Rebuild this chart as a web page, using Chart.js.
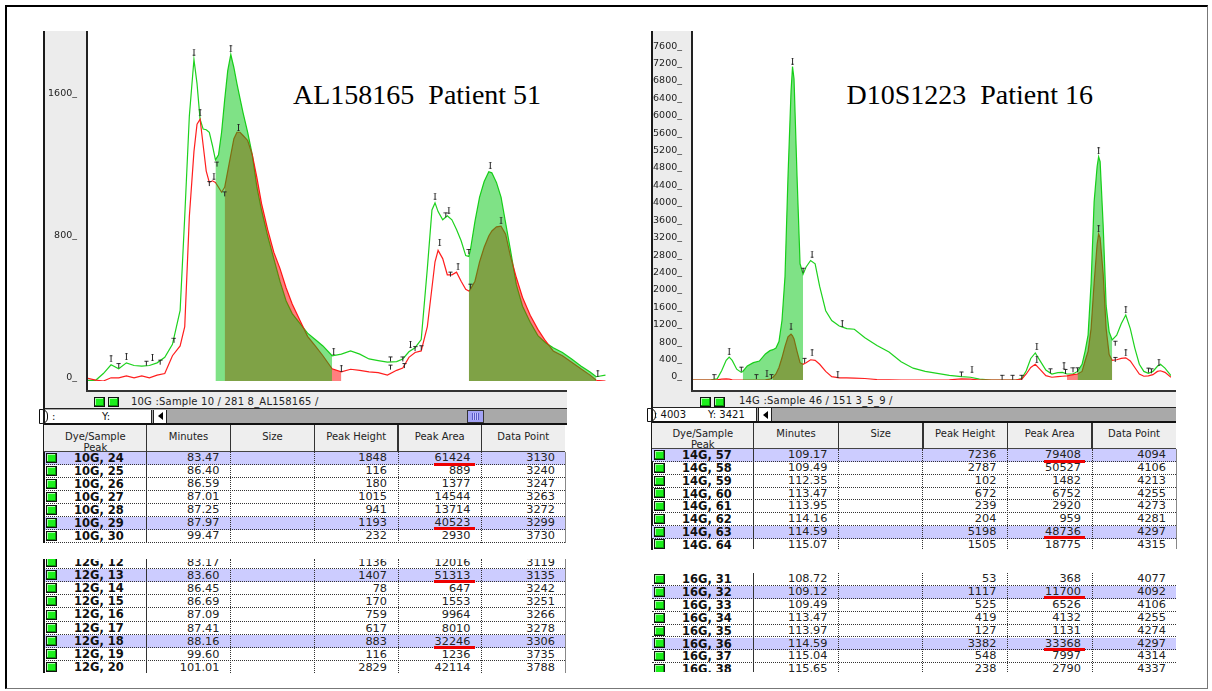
<!DOCTYPE html>
<html>
<head>
<meta charset="utf-8">
<title>AL158165 / D10S1223 electropherograms</title>
<script src="https://cdn.jsdelivr.net/npm/chart.js@4.4.1/dist/chart.umd.min.js"></script>
<style>
  html, body { margin: 0; padding: 0; background: #fff; }
  body { position: relative; width: 1212px; height: 691px; overflow: hidden; font-family: "DejaVu Sans", sans-serif; color: #1a1a1a; }
  canvas { position: absolute; z-index: 5; }
  .sq { position: absolute; width: 11px; height: 10px; box-sizing: border-box; border: 1px solid #111; background: #1cf01c; box-shadow: inset -1px -1px 0 #0a9a0a, inset 1px 1px 0 #a8ffa8; }
</style>
</head>
<body>
<canvas id="alChart" width="568" height="355" style="left:44px;top:31px"></canvas>
<canvas id="dsChart" width="524" height="354" style="left:652px;top:31px"></canvas>
<script>
// ---------- left panel: AL158165, patient 51 (10G green, 12G red) ----------
const alScan = [3037, 3042, 3047, 3052, 3057, 3062, 3067, 3072, 3077, 3082, 3087, 3092, 3097, 3100, 3103, 3106, 3108, 3110, 3112, 3114,
  3116, 3118, 3120, 3122, 3124, 3126, 3128, 3130, 3132, 3134, 3136, 3138, 3141, 3144, 3147, 3150, 3154, 3158, 3162, 3166,
  3170, 3175, 3180, 3185, 3190, 3196, 3202, 3208, 3214, 3220, 3226, 3232, 3238, 3242, 3246, 3250, 3254, 3258, 3261, 3263,
  3265, 3268, 3271, 3274, 3277, 3280, 3283, 3285, 3286, 3289, 3292, 3295, 3298, 3300, 3303, 3306, 3309, 3312, 3316, 3320,
  3325, 3330, 3335, 3340, 3346, 3352, 3358, 3364, 3368, 3374];
const alGreen = [4, 4, 42, 91, 69, 102, 87, 84, 87, 102, 133, 206, 397, 925, 1489, 1807, 1671, 1471, 1416, 1412,
  1398, 1325, 1243, 1271, 1398, 1580, 1744, 1835, 1762, 1671, 1589, 1507, 1398, 1271, 1089, 961, 816, 688, 561, 451,
  379, 324, 269, 233, 197, 142, 151, 169, 151, 124, 115, 106, 109, 124, 164, 187, 233, 633, 961, 1001,
  952, 906, 928, 906, 852, 788, 705, 700, 735, 897, 1034, 1121, 1176, 1170, 1116, 1034, 888, 743, 540, 420,
  330, 255, 215, 187, 160, 124, 84, 51, 24, 33];
const alRed = [15, 5, 0, 18, 18, 29, 18, 29, 18, 33, 42, 142, 197, 306, 925, 1289, 1443, 1471, 1325, 1180,
  1116, 1125, 1116, 1089, 1061, 1089, 1180, 1271, 1362, 1398, 1398, 1380, 1352, 1271, 1143, 998, 852, 724, 633, 524,
  433, 342, 251, 197, 142, 69, 51, 66, 60, 51, 47, 33, 60, 73, 133, 160, 169, 306, 524, 670,
  734, 688, 597, 597, 612, 561, 515, 506, 515, 561, 670, 752, 815, 843, 866, 870, 825, 706, 580, 470,
  370, 290, 225, 169, 142, 106, 69, 33, 4, 0];
const alGreenAreas = [[3120, 3196], [3285, 3368]];
const alRedAreas = [[3126, 3202], [3285, 3368]];
const alTicks = [0, 800, 1600];
const alPeakI = [[3052, 124], [3062, 137], [3079, 133], [3106, 1849], [3110, 1507], [3119, 1152], [3130, 1867], [3135, 1425],
  [3197, 165], [3202, 69], [3247, 206], [3263, 1039], [3266, 779], [3272, 961], [3278, 642], [3299, 1212], [3306, 903], [3369, 40]];
const alPeakT = [[3057, 87], [3075, 100], [3084, 106], [3093, 229], [3116, 1110], [3121, 1219], [3126, 1052], [3234, 124],
  [3234, 78], [3242, 124], [3243, 87], [3250, 182], [3254, 187], [3270, 934], [3273, 601], [3285, 728], [3286, 533]];

// ---------- right panel: D10S1223, patient 16 (14G green, 16G red) ----------
const dsScan = [4028, 4034, 4040, 4044, 4047, 4050, 4052, 4054, 4057, 4060, 4061, 4064, 4068, 4072, 4076, 4079, 4081, 4083, 4085, 4087,
  4089, 4091, 4093, 4094, 4095, 4097, 4099, 4101, 4103, 4106, 4109, 4112, 4116, 4120, 4125, 4130, 4135, 4142, 4150, 4158,
  4166, 4174, 4182, 4190, 4198, 4206, 4212, 4218, 4226, 4234, 4242, 4246, 4249, 4252, 4255, 4258, 4262, 4266, 4270, 4273,
  4276, 4280, 4283, 4286, 4288, 4290, 4292, 4294, 4296, 4297, 4298, 4300, 4302, 4304, 4306, 4309, 4312, 4315, 4318, 4321,
  4324, 4327, 4330, 4333, 4336, 4338, 4341, 4345];
const dsGreen = [0, 0, 4, 26, 212, 451, 525, 451, 249, 175, 197, 324, 398, 436, 599, 674, 696, 733, 882, 1366,
  2372, 4677, 6617, 7197, 6915, 4677, 2669, 2431, 2595, 2744, 2669, 2148, 1590, 1366, 1240, 1180, 1165, 972, 793, 644,
  420, 272, 197, 153, 108, 78, 63, 19, 0, 0, 0, 34, 212, 495, 622, 451, 227, 138, 168, 175,
  138, 138, 197, 361, 659, 1031, 2223, 4085, 4904, 5127, 5016, 3563, 1701, 1106, 920, 1031, 1292, 1493, 1180, 733,
  361, 197, 153, 197, 316, 361, 272, 101];
const dsRed = [0, 0, 0, 4, 19, 26, 19, 4, 0, 0, 0, 0, 0, 0, 4, 19, 63, 138, 287, 510,
  771, 994, 1054, 1017, 942, 659, 398, 361, 398, 465, 451, 361, 197, 78, 48, 48, 41, 34, 11, 4,
  0, 0, 0, 0, 4, 26, 19, 0, 0, 0, 0, 19, 138, 287, 361, 249, 101, 63, 78, 86,
  93, 123, 138, 197, 436, 659, 1180, 2223, 3117, 3355, 3265, 2446, 1180, 585, 451, 465, 495, 510, 436, 287,
  138, 86, 93, 123, 197, 212, 175, 63];
const dsGreenAreas = [[4061, 4101], [4283, 4306]];
const dsRedAreas = [[4081, 4101], [4276, 4306]];
const dsTicks = [0, 400, 800, 1200, 1600, 2000, 2400, 2800, 3200, 3600, 4000, 4400, 4800, 5200, 5600, 6000, 6400, 6800, 7200, 7600];
const dsPeakI = [[4052, 659], [4094, 7324], [4093, 1240], [4107, 2893], [4107, 622], [4127, 1292], [4124, 123], [4077, 153],
  [4213, 249], [4256, 771], [4256, 473], [4274, 324], [4297, 5262], [4297, 3474], [4315, 1612], [4315, 622], [4337, 398]];
const dsPeakT = [[4042, 78], [4060, 249], [4070, 78], [4080, 78], [4101, 2521], [4102, 451], [4206, 138], [4233, 63], [4240, 63],
  [4246, 63], [4265, 212], [4275, 197], [4280, 235], [4283, 235], [4308, 845], [4308, 473], [4330, 227], [4332, 212]];

// ---------- peak tables ----------
const tableHeaders = ["Dye/Sample", "Minutes", "Size", "Peak Height", "Peak Area", "Data Point"];
const peaks10G = [
  ["10G, 24", "83.47", "", "1848", "61424", "3130"],
  ["10G, 25", "86.40", "", "116", "889", "3240"],
  ["10G, 26", "86.59", "", "180", "1377", "3247"],
  ["10G, 27", "87.01", "", "1015", "14544", "3263"],
  ["10G, 28", "87.25", "", "941", "13714", "3272"],
  ["10G, 29", "87.97", "", "1193", "40523", "3299"],
  ["10G, 30", "99.47", "", "232", "2930", "3730"],
];
const peaks12G = [
  ["12G, 12", "83.17", "", "1136", "12016", "3119"],
  ["12G, 13", "83.60", "", "1407", "51313", "3135"],
  ["12G, 14", "86.45", "", "78", "647", "3242"],
  ["12G, 15", "86.69", "", "170", "1553", "3251"],
  ["12G, 16", "87.09", "", "759", "9964", "3266"],
  ["12G, 17", "87.41", "", "617", "8010", "3278"],
  ["12G, 18", "88.16", "", "883", "32246", "3306"],
  ["12G, 19", "99.60", "", "116", "1236", "3735"],
  ["12G, 20", "101.01", "", "2829", "42114", "3788"],
];
const peaks14G = [
  ["14G, 57", "109.17", "", "7236", "79408", "4094"],
  ["14G, 58", "109.49", "", "2787", "50527", "4106"],
  ["14G, 59", "112.35", "", "102", "1482", "4213"],
  ["14G, 60", "113.47", "", "672", "6752", "4255"],
  ["14G, 61", "113.95", "", "239", "2920", "4273"],
  ["14G, 62", "114.16", "", "204", "959", "4281"],
  ["14G, 63", "114.59", "", "5198", "48736", "4297"],
  ["14G, 64", "115.07", "", "1505", "18775", "4315"],
];
const peaks16G = [
  ["16G, 31", "108.72", "", "53", "368", "4077"],
  ["16G, 32", "109.12", "", "1117", "11700", "4092"],
  ["16G, 33", "109.49", "", "525", "6526", "4106"],
  ["16G, 34", "113.47", "", "419", "4132", "4255"],
  ["16G, 35", "113.97", "", "127", "1131", "4274"],
  ["16G, 36", "114.59", "", "3382", "33368", "4297"],
  ["16G, 37", "115.04", "", "548", "7997", "4314"],
  ["16G, 38", "115.65", "", "238", "2790", "4337"],
];
const marked10G = [0, 5];
const marked12G = [1, 6];
const marked14G = [0, 6];
const marked16G = [1, 5];

const GREEN_LINE = "#1ed21e";
const RED_LINE = "#ff1e1e";
const GREEN_FILL = "rgba(0, 197, 13, 0.5)";
const RED_FILL = "rgba(255, 0, 0, 0.5)";

function put(css, text, parent) {
  const d = document.createElement("div");
  d.style.cssText = "position:absolute;box-sizing:border-box;white-space:pre;" + css;
  if (text !== undefined) d.textContent = text;
  (parent || document.body).appendChild(d);
  return d;
}

// small "I" / "T" peak labels used as point styles
function glyph(kind) {
  const c = document.createElement("canvas");
  c.width = 5;
  c.height = 7;
  const g = c.getContext("2d");
  g.fillStyle = "#262626";
  if (kind === "I") {
    g.fillRect(2, 0, 1, 7);
    g.fillRect(1.5, 0, 2, 1);
    g.fillRect(1.5, 6, 2, 1);
  } else {
    g.fillRect(0.5, 1, 4, 1);
    g.fillRect(2, 1, 1, 5);
  }
  return c;
}
const glyphI = glyph("I");
const glyphT = glyph("T");

function drawTrace(id, cfg) {
  const ctx = document.getElementById(id).getContext("2d");
  const pts = (ys) => cfg.scan.map((x, i) => ({ x, y: ys[i] }));
  const area = (ys, [from, to]) => pts(ys).filter((p) => p.x >= from && p.x <= to);

  const datasets = [];
  // fills are drawn over the traces, red first, green on top (overlap turns olive)
  cfg.greenAreas.forEach((r) =>
    datasets.push({ data: area(cfg.green, r), fill: "origin", backgroundColor: GREEN_FILL, borderWidth: 0, order: 2 })
  );
  cfg.redAreas.forEach((r) =>
    datasets.push({ data: area(cfg.red, r), fill: "origin", backgroundColor: RED_FILL, borderWidth: 0, order: 3 })
  );
  datasets.push({ data: pts(cfg.red), borderColor: RED_LINE, borderWidth: 1.2, fill: false, order: 4 });
  datasets.push({ data: pts(cfg.green), borderColor: GREEN_LINE, borderWidth: 1.2, fill: false, order: 5 });
  datasets.push({ data: cfg.peakI.map(([x, y]) => ({ x, y })), showLine: false, pointStyle: glyphI, pointRadius: 3, order: 1 });
  datasets.push({ data: cfg.peakT.map(([x, y]) => ({ x, y })), showLine: false, pointStyle: glyphT, pointRadius: 3, order: 1 });

  return new Chart(ctx, {
    type: "line",
    data: { datasets },
    options: {
      responsive: false,
      animation: false,
      devicePixelRatio: 1,
      events: [],
      layout: { padding: 0 },
      elements: { point: { radius: 0 }, line: { tension: 0 } },
      plugins: { legend: { display: false }, tooltip: { enabled: false } },
      scales: {
        x: { type: "linear", min: cfg.xMin, max: cfg.xMax, display: false },
        y: {
          min: 0,
          max: cfg.yMax,
          afterBuildTicks: (s) => { s.ticks = cfg.ticks.map((v) => ({ value: v })); },
          afterFit: (s) => { s.width = cfg.axisWidth; s.paddingTop = 0; s.paddingBottom = 0; },
          grid: { display: false },
          border: { display: false },
          ticks: {
            autoSkip: false,
            padding: 3,
            labelOffset: -3,
            color: "#222",
            font: { family: "DejaVu Sans", size: 9.5 },
            callback: (v) => v + "_",
          },
        },
      },
    },
  });
}

drawTrace("alChart", {
  scan: alScan, green: alGreen, red: alRed,
  greenAreas: alGreenAreas, redAreas: alRedAreas,
  peakI: alPeakI, peakT: alPeakT, ticks: alTicks,
  xMin: 3037, xMax: 3375, yMax: 1939, axisWidth: 44,
});
drawTrace("dsChart", {
  scan: dsScan, green: dsGreen, red: dsRed,
  greenAreas: dsGreenAreas, redAreas: dsRedAreas,
  peakI: dsPeakI, peakT: dsPeakT, ticks: dsTicks,
  xMin: 4028, xMax: 4345, yMax: 7900, axisWidth: 41,
});

// ---------- window chrome around each trace ----------
function drawWindow(w) {
  // y-axis strip
  put(`left:${w.x0}px;top:31px;width:${w.axisX - w.x0}px;height:${w.bandTop - 31}px;background:#ececec;border-right:2px solid #222;`);
  // baseline rule under the plot
  put(`left:${w.axisX - 2}px;top:390px;width:${w.x1 - w.axisX + 2}px;height:2px;background:#333;`);
  // status band
  put(`left:${w.x0}px;top:${w.bandTop}px;width:${w.x1 - w.x0}px;height:${w.scrollTop - w.bandTop}px;background:#ececec;`);
  put(`left:${w.squaresX}px;top:397px;`).className = "sq";
  put(`left:${w.squaresX + 13.5}px;top:397px;`).className = "sq";
  // scroll row
  put(`left:${w.x0}px;top:${w.scrollTop}px;width:${w.x1 - w.x0}px;height:${w.scrollBottom - w.scrollTop}px;background:#a9a9a9;border-top:1.5px solid #222;border-bottom:2px solid #111;`);
  put(`left:${w.statusX}px;top:${w.statusTop}px;font:10px/12px "DejaVu Sans";letter-spacing:0.2px;color:#222;`, w.status);
  const inTop = w.scrollTop + 1.5;
  const inH = w.scrollBottom - w.scrollTop - 3.5;
  put(`left:${w.x0}px;top:${inTop}px;width:${w.boxRight - w.x0}px;height:${inH}px;background:#fff;border-right:1px solid #222;`);
  put(`left:${w.x0 - 4}px;top:${inTop - 0.5}px;width:9px;height:${inH + 1}px;background:#fff;border:1.5px solid #111;border-radius:0 6px 6px 0;`);
  w.coords.forEach(([x, t]) => put(`left:${x}px;top:${inTop}px;font:10px/${inH}px "DejaVu Sans";color:#111;`, t));
  const arrow = put(`left:${w.boxRight + 1}px;top:${inTop}px;width:14px;height:${inH}px;background:#fff;border-right:1px solid #222;border-left:1px solid #222;`);
  put(`left:4px;top:${inH / 2 - 4}px;width:0;height:0;border-top:4px solid transparent;border-bottom:4px solid transparent;border-right:5px solid #000;`, undefined, arrow);
  if (w.thumbX) {
    const th = put(`left:${w.thumbX}px;top:${inTop}px;width:17px;height:${inH}px;background:#a3a3f5;border:1px solid #333;`);
    put(`left:4px;top:2px;width:7px;height:${inH - 6}px;background:repeating-linear-gradient(90deg,#5c5cc8 0 1px,#c4c4ff 1px 2px);`, undefined, th);
  }
  // long left edge
  put(`left:${w.x0}px;top:31px;width:2px;height:${w.edgeBottom - 31}px;background:#1a1a1a;`);
}

function drawHeader(cols, top, bottom, y1, y2) {
  put(`left:${cols[0]}px;top:${top}px;width:${cols[6] - cols[0]}px;height:${bottom - top}px;background:#eeeeee;border-bottom:1px solid #444;`);
  cols.slice(1, 6).forEach((x) => put(`left:${x - 0.75}px;top:${top}px;width:1.5px;height:${bottom - top}px;background:#333;`));
  tableHeaders.forEach((h, i) =>
    put(`left:${cols[i]}px;width:${cols[i + 1] - cols[i]}px;top:${y1 - 6}px;text-align:center;font:10px/12px "DejaVu Sans";color:#222;`, h)
  );
  put(`left:${cols[0]}px;width:${cols[1] - cols[0]}px;top:${y2 - 6}px;text-align:center;font:10px/12px "DejaVu Sans";color:#222;`, "Peak");
}

function drawRows(t) {
  const cols = t.cols;
  const box = put(`left:0;top:${t.clipTop}px;width:1212px;height:${t.clipBottom - t.clipTop}px;overflow:hidden;`);
  t.rows.forEach((r, i) => {
    const top = t.firstTop - t.clipTop + i * t.pitch;
    const hl = t.marked.includes(i);
    put(`left:${cols[0]}px;top:${top}px;width:${cols[6] - cols[0]}px;height:${t.pitch}px;background:${hl ? "#ccccff" : "transparent"};border-bottom:1px dotted #333;`, undefined, box);
    put(`left:${cols[0] + 2}px;top:${top + t.pitch / 2 - 5.5}px;`, undefined, box).className = "sq";
    put(`left:${cols[0] + 30}px;top:${top}px;height:${t.pitch}px;font:bold 11.5px/${t.pitch}px "DejaVu Sans";color:#111;`, r[0], box);
    for (let c = 1; c < 6; c++) {
      if (!r[c]) continue;
      const pad = c === 5 ? 10 : 11;
      put(`left:${cols[c]}px;width:${cols[c + 1] - cols[c] - pad}px;top:${top}px;height:${t.pitch}px;text-align:right;font:11.3px/${t.pitch}px "DejaVu Sans";color:#222;`, r[c], box);
    }
    if (hl) put(`left:${cols[5] - 48}px;top:${top + t.pitch - 2.5}px;width:41px;height:3px;background:#ee0000;`, undefined, box);
  });
  cols.slice(1, 6).forEach((x, c) =>
    put(`left:${x - 0.5}px;top:0;width:1px;height:100%;border-left:1px ${c === 0 ? "solid" : "dotted"} #333;`, undefined, box)
  );
  if (t.leftEdge) put(`left:${cols[0] - 1}px;top:0;width:${t.leftEdge}px;height:100%;background:#111;`, undefined, box);
  if (t.rightEdge) put(`left:${cols[6] - 0.5}px;top:0;width:1px;height:100%;background:${t.rightEdge};`, undefined, box);
}

// outer frame
put("left:5px;top:5px;width:1203px;height:684px;border-top:2px solid #000;border-left:2px solid #000;border-right:1px solid #777;border-bottom:1px solid #777;");

const alCols = [44, 146.7, 230.4, 314.5, 398, 481.5, 565];
const dsCols = [652, 753.5, 838.5, 922.8, 1007.4, 1092, 1176];

drawWindow({
  x0: 43, axisX: 88, x1: 567, bandTop: 392, scrollTop: 408, scrollBottom: 425,
  squaresX: 94, statusX: 131, statusTop: 396, status: "10G :Sample 10 / 281 8_AL158165 /",
  coords: [[52, ":"], [102, "Y:"]], boxRight: 152, thumbX: 467, edgeBottom: 543,
});
drawWindow({
  x0: 651, axisX: 693, x1: 1176, bandTop: 392, scrollTop: 406.5, scrollBottom: 423,
  squaresX: 700, statusX: 739, statusTop: 395, status: "14G :Sample 46 / 151 3_5_9 /",
  coords: [[654, ": 4003"], [708, "Y: 3421"]], boxRight: 757, thumbX: 0, edgeBottom: 550,
});

drawHeader(alCols, 425, 452.3, 437, 448);
drawHeader(dsCols, 423, 449.3, 433.5, 445);

drawRows({ cols: alCols, rows: peaks10G, marked: marked10G, clipTop: 452.3, clipBottom: 543, firstTop: 452.3, pitch: 12.9, leftEdge: 2, rightEdge: "#888" });
drawRows({ cols: alCols, rows: peaks12G, marked: marked12G, clipTop: 559, clipBottom: 672.5, firstTop: 555.6, pitch: 13.2, leftEdge: 2, rightEdge: "#888" });
drawRows({ cols: dsCols, rows: peaks14G, marked: marked14G, clipTop: 449.3, clipBottom: 549.5, firstTop: 449.3, pitch: 12.76, leftEdge: 1, rightEdge: "#888" });
drawRows({ cols: dsCols, rows: peaks16G, marked: marked16G, clipTop: 572.5, clipBottom: 672, firstTop: 573, pitch: 12.9 });

// panel titles
put('left:293px;top:81px;font:28px/28px "Liberation Serif";color:#000;', "AL158165  Patient 51");
put('left:846.5px;top:81px;font:28px/28px "Liberation Serif";color:#000;', "D10S1223  Patient 16");
</script>
</body>
</html>
